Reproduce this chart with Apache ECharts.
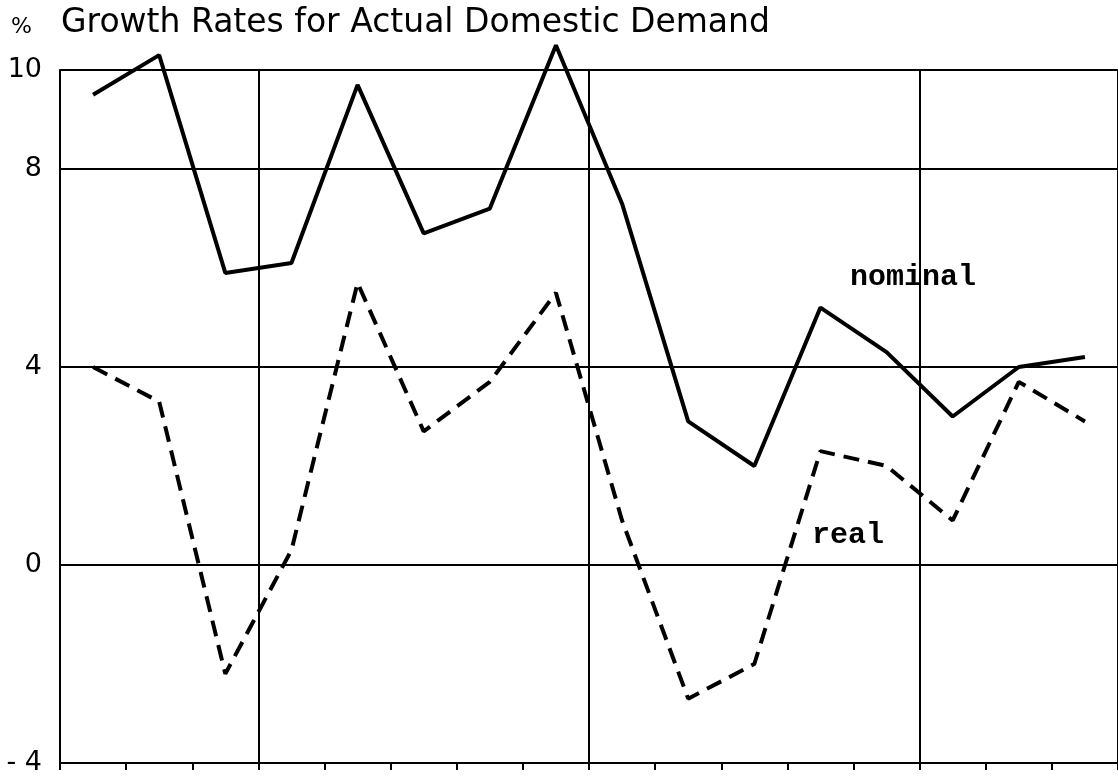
<!DOCTYPE html>
<html>
<head>
<meta charset="utf-8">
<title>Growth Rates for Actual Domestic Demand</title>
<script src="https://cdn.jsdelivr.net/npm/echarts@6/dist/echarts.min.js"></script>
<style>
  html, body { margin: 0; padding: 0; background: #fff; }
  #main { width: 1118px; height: 778px; }
</style>
</head>
<body>
<div id="main"></div>
<script>
// one category per year, labels are not printed on the original
var years = ['1', '2', '3', '4', '5', '6', '7', '8', '9', '10', '11', '12', '13', '14', '15', '16'];
var nominal = [9.5, 10.3, 5.9, 6.1, 9.7, 6.7, 7.2, 10.5, 7.3, 2.9, 2.0, 5.2, 4.3, 3.0, 4.0, 4.2];
var real = [4.0, 3.3, -2.2, 0.3, 5.7, 2.7, 3.7, 5.5, 0.9, -2.7, -2.0, 2.3, 2.0, 0.9, 3.7, 2.9];
var yTicks = [-4, 0, 4, 8, 10];

var chart = echarts.init(document.getElementById('main'));

var option = {
  backgroundColor: '#fff',
  animation: false,
  title: {
    text: 'Growth Rates for Actual Domestic Demand',
    left: 56,
    top: 2,
    textStyle: {
      fontFamily: 'DejaVu Sans',
      fontSize: 33,
      fontWeight: 'normal',
      color: '#000'
    }
  },
  graphic: [
    {
      type: 'text',
      left: 11,
      top: 16,
      style: { text: '%', font: '22px "DejaVu Sans"', fill: '#000' }
    },
    {
      type: 'text',
      left: 850,
      top: 262,
      style: { text: 'nominal', font: 'bold 30px "Liberation Mono"', fill: '#000' }
    },
    {
      type: 'text',
      left: 812,
      top: 520,
      style: { text: 'real', font: 'bold 30px "Liberation Mono"', fill: '#000' }
    }
  ],
  grid: {
    left: 60,
    right: 0,
    top: 70,
    bottom: 15
  },
  xAxis: {
    type: 'category',
    data: years,
    boundaryGap: true,
    axisLine: { onZero: false, lineStyle: { color: '#000', width: 2 } },
    axisTick: { show: true, length: 7, lineStyle: { color: '#000', width: 2 } },
    axisLabel: { show: false },
    splitLine: {
      show: true,
      interval: function (index) { return index % 5 === 3; },
      lineStyle: { color: '#000', width: 2 }
    }
  },
  yAxis: {
    type: 'value',
    min: -4,
    max: 10,
    interval: 4,
    axisLine: { show: true, lineStyle: { color: '#000', width: 2 } },
    axisTick: { show: false },
    axisLabel: {
      margin: 18,
      color: '#000',
      fontFamily: 'DejaVu Sans',
      fontSize: 27,
      formatter: function (v) {
        if (yTicks.indexOf(v) < 0) return '';
        return v < 0 ? '- ' + Math.abs(v) : String(v);
      }
    },
    splitLine: { show: true, lineStyle: { color: '#000', width: 2 } }
  },
  series: [
    {
      name: 'nominal',
      type: 'line',
      data: nominal,
      symbol: 'none',
      clip: false,
      lineStyle: { color: '#000', width: 4 }
    },
    {
      name: 'real',
      type: 'line',
      data: real,
      symbol: 'none',
      clip: false,
      lineStyle: { color: '#000', width: 4, type: [16, 9] }
    }
  ]
};

chart.setOption(option);
</script>
</body>
</html>
